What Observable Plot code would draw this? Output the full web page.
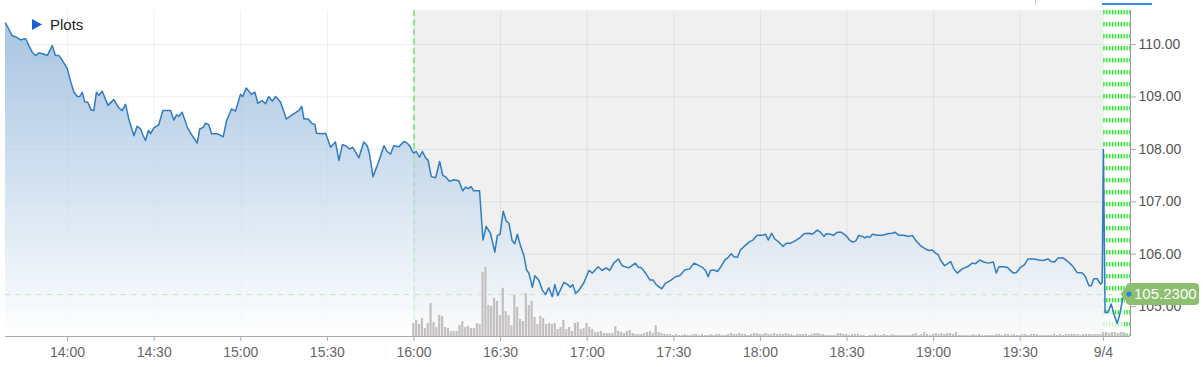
<!DOCTYPE html>
<html>
<head>
<meta charset="utf-8">
<script src="https://cdn.jsdelivr.net/npm/d3@7"></script>
<script src="https://cdn.jsdelivr.net/npm/@observablehq/plot@0.6"></script>
<style>
  html, body { margin: 0; padding: 0; background: #fff; }
  #wrap { position: relative; width: 1204px; height: 367px; overflow: hidden; font-family: Arial, "Liberation Sans", sans-serif; }
  #legend { position: absolute; left: 32px; top: 16px; font-size: 15px; color: #222; display: flex; align-items: center; gap: 8px; }
  #topline { position: absolute; left: 1035px; top: 0; width: 1px; height: 5px; background: #ccc; }
  #topbar { position: absolute; left: 1102px; top: 3px; width: 50px; height: 2px; background: #3d87e6; }
</style>
</head>
<body>
<div id="wrap">
  <div id="chart"></div>
  <div id="legend"><svg width="10" height="11"><polygon points="0,0 10,5.5 0,11" fill="#1a5fd6"/></svg><span>Plots</span></div>
  <div id="topline"></div>
  <div id="topbar"></div>
</div>
<script>
// ---- data: minutes after 14:00 (day break at the "9/4" tick) and price ----
const times = [-21.5,-20.7,-19.2,-18.0,-16.3,-14.5,-13.4,-12.2,-11.1,-9.9,-8.2,-7.0,-6.1,-5.3,-4.2,-3.0,-1.8,-0.1,1.0,2.2,3.4,4.3,5.1,5.9,7.0,8.2,9.1,10.0,10.8,12.0,14.0,16.0,17.8,18.9,20.1,21.2,23.0,24.1,25.3,26.2,27.0,28.0,28.8,29.9,31.6,33.0,35.7,36.8,37.8,38.6,39.7,41.5,43.2,44.9,45.8,47.0,47.8,48.9,49.9,51.9,53.9,55.1,56.8,58.2,59.9,60.7,61.9,63.7,64.9,65.9,67.4,68.6,69.7,70.9,72.1,73.8,75.8,77.8,80.1,81.1,81.9,83.4,84.5,85.7,86.2,88.2,89.4,91.1,92.8,94.0,95.2,96.3,97.7,98.8,100.9,102.6,103.8,104.6,105.8,107.8,109.6,110.7,111.9,113.0,114.8,116.5,117.7,118.8,119.8,120.8,121.9,122.9,124.0,124.9,126.0,127.5,128.9,130.0,130.9,132.3,133.8,135.5,136.9,137.9,138.8,139.8,140.7,142.7,143.9,145.0,146.5,148.0,148.9,149.8,150.9,152.0,152.9,154.0,154.9,155.8,156.9,158.1,159.0,159.8,161.0,161.9,163.3,164.4,165.6,166.7,167.9,168.8,169.8,171.9,173.3,174.2,175.0,176.0,177.1,178.8,180.6,181.8,183.8,185.2,186.6,187.8,189.2,190.8,192.1,194.4,196.7,197.7,198.8,200.2,201.7,202.8,203.9,205.8,207.2,208.9,210.6,212.0,213.8,215.5,217.0,218.1,219.9,221.0,221.9,222.7,223.9,225.1,226.2,227.7,228.7,229.9,230.8,232.0,233.1,234.6,236.0,237.4,238.9,240.6,241.8,242.7,243.9,245.0,246.4,247.8,249.0,250.5,251.9,253.6,255.1,256.6,258.0,259.7,260.8,262.0,262.8,264.3,265.3,266.6,268.0,269.5,270.9,272.0,273.0,274.1,275.3,276.2,277.0,277.8,278.8,280.5,282.2,284.0,285.7,286.6,288.0,289.7,291.4,292.6,294.0,295.5,297.2,298.4,299.5,300.7,301.6,302.4,303.8,305.9,307.0,308.2,309.9,311.7,313.4,314.5,316.0,317.4,318.8,320.7,321.7,322.6,323.8,325.5,327.6,328.7,330.1,331.5,332.7,334.7,336.5,338.0,339.6,340.8,341.9,343.1,344.9,346.5,348.4,349.7,351.5,352.6,353.8,354.6,355.5,356.7,357.8,358.4,358.8,359.4,360.4,361.5,362.5,363.6,364.5,365.5,366.1];
const prices = [110.41,110.33,110.17,110.15,110.09,110.11,109.98,109.85,109.79,109.84,109.82,109.79,109.89,109.98,109.79,109.79,109.70,109.54,109.31,109.09,109.01,109.01,109.09,108.91,108.90,108.75,108.74,109.09,109.03,109.11,108.84,108.95,108.79,108.74,108.86,108.58,108.26,108.44,108.39,108.26,108.17,108.36,108.30,108.41,108.47,108.74,108.74,108.56,108.66,108.63,108.71,108.42,108.26,108.12,108.39,108.42,108.50,108.47,108.30,108.30,108.24,108.55,108.77,108.73,109.05,109.01,109.17,109.05,109.09,108.88,108.93,108.87,109.01,108.92,109.01,108.90,108.58,108.66,108.74,108.82,108.58,108.58,108.50,108.47,108.31,108.30,108.31,108.04,108.14,107.79,108.09,108.07,108.01,108.04,107.84,108.14,108.07,107.91,107.48,107.77,108.07,107.96,107.91,108.07,108.05,108.15,108.12,108.04,107.93,107.96,107.85,107.96,107.84,107.79,107.48,107.46,107.77,107.50,107.48,107.39,107.42,107.40,107.21,107.28,107.25,107.29,107.21,107.21,106.27,106.53,106.40,106.04,106.36,106.38,106.82,106.63,106.59,106.26,106.20,106.38,106.16,105.97,105.70,105.64,105.37,105.59,105.50,105.32,105.23,105.36,105.19,105.42,105.21,105.46,105.42,105.37,105.42,105.25,105.31,105.45,105.69,105.64,105.76,105.69,105.74,105.69,105.83,105.91,105.78,105.74,105.83,105.75,105.74,105.64,105.51,105.51,105.42,105.34,105.45,105.50,105.57,105.59,105.70,105.72,105.83,105.80,105.75,105.69,105.57,105.69,105.70,105.67,105.75,105.89,105.93,106.01,105.95,105.94,106.08,106.16,106.23,106.27,106.36,106.36,106.38,106.27,106.40,106.29,106.23,106.15,106.21,106.21,106.25,106.31,106.39,106.40,106.38,106.46,106.42,106.34,106.39,106.38,106.36,106.42,106.42,106.36,106.27,106.23,106.25,106.36,106.34,106.31,106.34,106.32,106.38,106.36,106.36,106.39,106.40,106.42,106.36,106.36,106.34,106.36,106.25,106.16,106.10,106.07,106.08,106.02,105.99,105.89,105.78,105.86,105.72,105.64,105.72,105.76,105.83,105.82,105.89,105.85,105.83,105.85,105.64,105.76,105.76,105.75,105.64,105.65,105.75,105.80,105.91,105.91,105.89,105.88,105.91,105.86,105.85,105.93,105.93,105.86,105.76,105.65,105.64,105.57,105.40,105.40,105.53,105.53,105.43,105.46,108.00,104.89,104.89,105.05,104.85,104.68,104.86,105.15,105.23];

// volume per minute, starting at 16:00 (minute 120)
const volumeStart = 120;
const volumes = [13,16,12,18,8,13,33,14,9,21, 20,9,8,5,5,5,11,15,9,10, 8,8,13,12,64,69,31,30,38,35, 21,48,25,21,11,41,29,17,15,43,
  31,35,19,12,20,18,12,13,12,13, 7,9,16,7,9,5,13,14,7,8, 13,9,7,4,4,5,3,3,3,3, 10,5,4,3,5,6,3,2,2,2, 3,4,5,3,11,4,3,2,2,
  2,1,2,1,1,2,1,1,2,2, 1,2,1,1,2,1,2,2,1,1, 2,3,2,2,3,2,2,1,2,3, 3,2,2,3,2,2,3,2,2,2, 3,2,2,1,2,2,2,2,1,2,
  3,3,2,2,1,1,1,1,3,3, 2,2,1,2,2,2,1,1,0,1, 1,2,1,1,2,1,1,2,1,1, 1,1,1,1,2,3,1,2,4,2, 1,2,3,2,3,2,3,3,2,4,
  1,1,1,1,1,2,1,2,1,1, 1,1,1,2,2,1,2,2,1,2, 1,1,2,2,1,2,2,2,1,1, 1,1,1,2,1,2,1,2,2,2, 2,2,1,2,2,2,2,2,2,2,
  4,4,3,4,4,3,4,4,3];

const tickTimes = [0,30,60,90,120,150,180,210,240,270,300,330,358.8];
const tickLabels = ["14:00","14:30","15:00","15:30","16:00","16:30","17:00","17:30","18:00","18:30","19:00","19:30","9/4"];
const priceTicks = [105,106,107,108,109,110];
const sessionStart = 120;      // 16:00 – extended session begins
const dayBreak = 358.8;        // 9/4
const day2Bars = [359,360,361,362,363,364,365,366,367,368];
const lastPrice = 105.23;

const xDomain = [-21.5, 368.2];
const yDomain = [104.43, 110.65];
const volToPrice = 0.0191;

(function () {
const series = times.map((t, i) => ({t, p: prices[i]}));
const vols = volumes.map((v, i) => ({t: volumeStart + i, v}));

const chart = Plot.plot({
  width: 1204,
  height: 367,
  marginLeft: 5,
  marginRight: 74,
  marginTop: 10,
  marginBottom: 31,
  style: {fontFamily: 'Arial, "Liberation Sans", sans-serif', fontSize: "14px", color: "#666", background: "#fff", overflow: "visible"},
  x: {domain: xDomain, ticks: tickTimes, tickFormat: d => tickLabels[tickTimes.indexOf(d)], tickSize: 5, tickPadding: 6, label: null},
  y: {domain: yDomain, axis: "right", ticks: priceTicks, tickFormat: d3.format(".2f"), tickSize: 5, tickPadding: 3, label: null},
  marks: [
    Plot.rect([0], {x1: () => sessionStart, x2: () => dayBreak, fill: "#f0f0f0"}),
    Plot.ruleX(tickTimes, {stroke: "#000", strokeOpacity: 0.06}),
    Plot.ruleY(priceTicks, {stroke: "#000", strokeOpacity: 0.065}),
    Plot.ruleX([sessionStart], {stroke: "#22e622", strokeDasharray: "6,3.5"}),
    Plot.ruleX(day2Bars, {stroke: "#22ee22", strokeWidth: 1.4, strokeDasharray: "4.5,7.5"}),
    Plot.areaY(series, {x: "t", y1: yDomain[0], y2: "p", fill: "url(#areaGrad)"}),
    Plot.ruleY([lastPrice], {stroke: "#c4e4c4", strokeDasharray: "5,5.5"}),
    Plot.rect(vols, {x1: d => d.t - 0.45, x2: d => d.t + 0.3, y1: yDomain[0], y2: d => yDomain[0] + d.v * volToPrice, fill: "#c3bfbf"}),
    Plot.line(series, {x: "t", y: "p", stroke: "#2f7cc0", strokeWidth: 1.5}),
    Plot.ruleY([yDomain[0]], {stroke: "#aaa"}),
    Plot.ruleX([xDomain[1]], {stroke: "#999"})
  ]
});

document.getElementById("chart").appendChild(chart);

const svg = d3.select(chart);
const ys = chart.scale("y");
const xs = chart.scale("x");
const yTop = ys.apply(yDomain[1]);
const yBot = ys.apply(yDomain[0]);
svg.insert("defs", ":first-child").html(
  `<linearGradient id="areaGrad" gradientUnits="userSpaceOnUse" x1="0" y1="${yTop}" x2="0" y2="${yBot}">
     <stop offset="0" stop-color="#7fa9d4" stop-opacity="0.7"/>
     <stop offset="1" stop-color="#ffffff" stop-opacity="0.75"/>
   </linearGradient>`);

svg.selectAll('g[aria-label="x-axis tick"] path, g[aria-label="y-axis tick"] path').attr("stroke", "#aaa");
svg.selectAll('g[aria-label="x-axis tick label"]').attr("fill", "#666");
svg.selectAll('g[aria-label="y-axis tick label"]').attr("fill", "#555");

// last price badge
const yc = ys.apply(lastPrice);
const xr = xs.apply(xDomain[1]);
const tipX = xr - 9.5, bL = xr - 4, bR = xr + 69, bT = yc - 11, bB = yc + 11, r = 4;
const g = svg.append("g");
g.append("path")
  .attr("d", `M${tipX},${yc} L${bL},${yc - 7} V${bT + r} Q${bL},${bT} ${bL + r},${bT} H${bR - r} Q${bR},${bT} ${bR},${bT + r} V${bB - r} Q${bR},${bB} ${bR - r},${bB} H${bL + r} Q${bL},${bB} ${bL},${bB - r} V${yc + 7} Z`)
  .attr("fill", "#8cbf70");
g.append("circle").attr("cx", xr - 1).attr("cy", yc).attr("r", 2.6).attr("fill", "#1c8ad6");
g.append("text").attr("x", xr + 4).attr("y", yc + 5.3).attr("fill", "#fff")
  .attr("text-anchor", "start").attr("font-size", 15).text(d3.format(".4f")(lastPrice));
})();
</script>
</body>
</html>
